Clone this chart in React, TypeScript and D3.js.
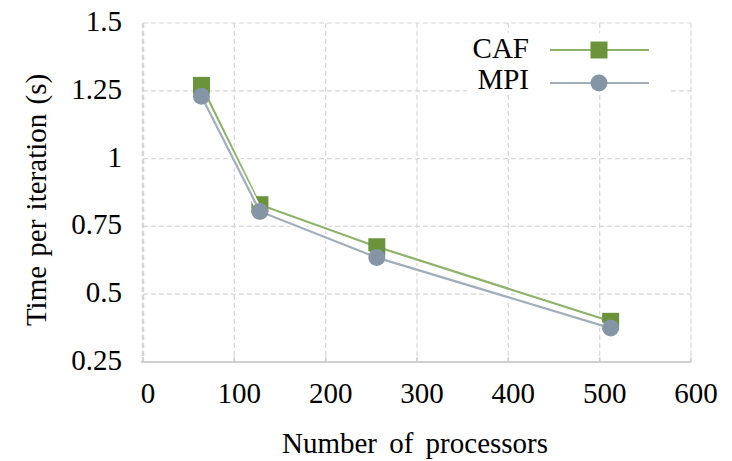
import React from "react";
import * as d3 from "d3";

const processors = [64, 128, 256, 512];
const cafTimes = [1.27, 0.83, 0.675, 0.4];
const mpiTimes = [1.23, 0.805, 0.635, 0.375];
const xTicks = [0, 100, 200, 300, 400, 500, 600];
const yTicks = [0.25, 0.5, 0.75, 1, 1.25, 1.5];
const yTickLabels = ["0.25", "0.5", "0.75", "1", "1.25", "1.5"];

const W = 732;
const H = 461;
const left = 143;
const right = 691;
const top = 23;
const bottom = 362;
const txt: React.CSSProperties = {
  fontFamily: '"Liberation Serif", "DejaVu Serif", "Times New Roman", serif',
  fontSize: 29,
};

const CAF_LINE = "#8db36a";
const CAF_MARK = "#6a933a";
const MPI_LINE = "#a2aebb";
const MPI_MARK = "#8595a6";

export default function App() {
  const x = d3.scaleLinear().domain([0, 600]).range([left, right]);
  const y = d3.scaleLinear().domain([0.25, 1.5]).range([bottom, top]);
  const line = d3
    .line<[number, number]>()
    .x((d) => x(d[0]))
    .y((d) => y(d[1]));
  const cafPts = processors.map((p, i) => [p, cafTimes[i]] as [number, number]);
  const mpiPts = processors.map((p, i) => [p, mpiTimes[i]] as [number, number]);

  const grid = "#d6d6d6";
  const sq = 17;
  const r = 8.5;

  return (
    <svg
      width={W}
      height={H}
      style={{ position: "absolute", left: 0, top: 0, background: "#fff" }}
    >
      {xTicks.map((t) => (
        <line
          key={"gx" + t}
          x1={x(t)}
          x2={x(t)}
          y1={top}
          y2={bottom}
          stroke={grid}
          strokeWidth={t === 0 ? 2.5 : 1.2}
          strokeDasharray="5,3"
        />
      ))}
      {yTicks.map((t) => (
        <line
          key={"gy" + t}
          x1={left}
          x2={right}
          y1={y(t)}
          y2={y(t)}
          stroke={grid}
          strokeWidth={1.2}
          strokeDasharray="5,3"
        />
      ))}
      <line x1={left - 2} x2={right} y1={bottom} y2={bottom} stroke="#cfcfcf" strokeWidth={2} />
      {xTicks.map((t) => (
        <line key={"tx" + t} x1={x(t)} x2={x(t)} y1={bottom} y2={bottom - 5} stroke="#cfcfcf" strokeWidth={1.5} />
      ))}
      {xTicks.map((t) => (
        <text key={"lx" + t} x={x(t) + 5} y={403} textAnchor="middle" style={txt} fill="#000">
          {t}
        </text>
      ))}
      {yTicks.map((t, i) => (
        <text key={"ly" + t} x={122} y={y(t) + 8} textAnchor="end" style={txt} fill="#000">
          {yTickLabels[i]}
        </text>
      ))}
      <text x={415} y={453} textAnchor="middle" style={{ ...txt, wordSpacing: 5 }} fill="#000">
        Number of processors
      </text>
      <text
        transform={`translate(46,200) rotate(-90)`}
        textAnchor="middle"
        style={{ ...txt, wordSpacing: 2 }}
        fill="#000"
      >
        Time per iteration (s)
      </text>

      <path d={line(cafPts) || ""} fill="none" stroke="#fff" strokeWidth={6} />
      <path d={line(cafPts) || ""} fill="none" stroke={CAF_LINE} strokeWidth={2.2} />
      {cafPts.map((d, i) => (
        <rect key={"c" + i} x={x(d[0]) - sq / 2} y={y(d[1]) - sq / 2} width={sq} height={sq} fill={CAF_MARK} />
      ))}
      <path d={line(mpiPts) || ""} fill="none" stroke="#fff" strokeWidth={6} />
      <path d={line(mpiPts) || ""} fill="none" stroke={MPI_LINE} strokeWidth={2.2} />
      {mpiPts.map((d, i) => (
        <circle key={"m" + i} cx={x(d[0])} cy={y(d[1])} r={r} fill={MPI_MARK} />
      ))}

      <rect x={467} y={33} width={201} height={61} fill="#fff" />
      <text x={529} y={58} textAnchor="end" style={txt} fill="#000">CAF</text>
      <line x1={550} x2={649} y1={50} y2={50} stroke={CAF_LINE} strokeWidth={2.2} />
      <rect x={599 - sq / 2} y={50 - sq / 2} width={sq} height={sq} fill={CAF_MARK} />
      <text x={529} y={89} textAnchor="end" style={txt} fill="#000">MPI</text>
      <line x1={550} x2={649} y1={83} y2={83} stroke={MPI_LINE} strokeWidth={2.2} />
      <circle cx={599} cy={83} r={r} fill={MPI_MARK} />
    </svg>
  );
}
